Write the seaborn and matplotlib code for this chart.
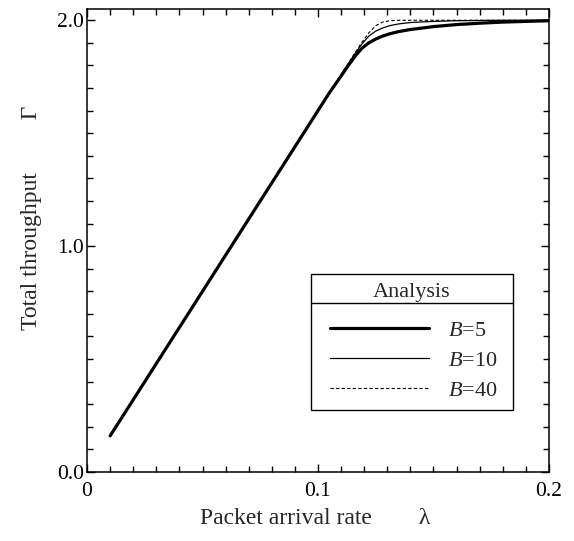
import matplotlib
matplotlib.use("Agg")
import matplotlib.pyplot as plt
import pandas as pd
import seaborn as sns
from matplotlib.lines import Line2D
from matplotlib.legend_handler import HandlerLine2D
from matplotlib.ticker import MultipleLocator

# Data
lam = [0.01, 0.05, 0.09, 0.100, 0.105, 0.110, 0.113, 0.116, 0.119, 0.122, 0.125,
       0.128, 0.131, 0.135, 0.140, 0.150, 0.160, 0.170, 0.180, 0.190, 0.200]
gamma_b5 = [0.16, 0.80, 1.44, 1.600, 1.680, 1.753, 1.798, 1.840, 1.876, 1.900, 1.917,
            1.930, 1.940, 1.950, 1.959, 1.972, 1.981, 1.987, 1.992, 1.995, 1.998]
gamma_b10 = [0.16, 0.80, 1.44, 1.600, 1.680, 1.759, 1.806, 1.852, 1.895, 1.930, 1.952,
             1.966, 1.976, 1.984, 1.990, 1.995, 1.998, 1.999, 2.000, 2.000, 2.000]
gamma_b40 = [0.16, 0.80, 1.44, 1.600, 1.680, 1.760, 1.808, 1.856, 1.902, 1.944, 1.976,
             1.992, 1.998, 2.000, 2.000, 2.000, 2.000, 2.000, 2.000, 2.000, 2.000]
labels = ["$B$=5", "$B$=10", "$B$=40"]

sns.set_style("ticks")
plt.rcParams['font.family'] = ['Liberation Serif', 'DejaVu Serif']
plt.rcParams['mathtext.fontset'] = 'custom'
plt.rcParams['mathtext.rm'] = 'Liberation Serif'
plt.rcParams['mathtext.it'] = 'Liberation Serif:italic'

df = pd.DataFrame({'lam': lam * 3,
                   'gamma': gamma_b5 + gamma_b10 + gamma_b40,
                   'B': [labels[0]] * len(lam) + [labels[1]] * len(lam) + [labels[2]] * len(lam)})

fig = plt.figure(figsize=(5.74, 5.41), dpi=100)
ax = fig.add_axes([0.1516, 0.1275, 0.8048, 0.8559])

styles = {labels[0]: dict(lw=2.3, ls='-'),
          labels[1]: dict(lw=0.9, ls='-'),
          labels[2]: dict(lw=0.8, ls=(0, (3, 2)))}
handles = []
for name in labels:
    sub = df[df['B'] == name]
    sns.lineplot(data=sub, x='lam', y='gamma', ax=ax, color='black', legend=False,
                 linewidth=styles[name]['lw'], linestyle=styles[name]['ls'])
    handles.append(Line2D([], [], color='black', lw=styles[name]['lw'], ls=styles[name]['ls']))

ax.set_xlim(0, 0.2)
ax.set_ylim(0, 2.05)
ax.set_xticks([0, 0.1, 0.2])
ax.set_xticklabels(['0', '0.1', '0.2'])
ax.set_yticks([0, 1.0, 2.0])
ax.set_yticklabels(['0.0', '1.0', '2.0'])
ax.xaxis.set_minor_locator(MultipleLocator(0.01))
ax.yaxis.set_minor_locator(MultipleLocator(0.1))
ax.tick_params(which='both', direction='in', top=True, right=True, width=1.0, colors='black')
ax.tick_params(which='major', length=6, labelsize=15.5)
ax.tick_params(axis='x', which='major', pad=7)
ax.tick_params(axis='y', which='major', pad=2)
ax.tick_params(which='minor', length=4)
for s in ax.spines.values():
    s.set_linewidth(1.1)
    s.set_color('black')

ax.set_xlabel("Packet arrival rate" + " " * 8 + "λ", fontsize=17, va='top')
ax.xaxis.set_label_coords(0.494, -0.077)
ax.set_ylabel("Total throughput" + " " * 9 + "Γ", fontsize=17)
ax.yaxis.set_label_coords(-0.097, 0.549)

leg = ax.legend(handles, labels, title="Analysis", loc='upper left',
                bbox_to_anchor=(0.485, 0.140, 0.437, 0.288), mode='expand',
                borderaxespad=0, fontsize=16, title_fontsize=16, handlelength=4.9,
                handletextpad=0.86, labelspacing=0.42, borderpad=0.415, fancybox=False,
                frameon=True, framealpha=1, edgecolor='black', alignment='center',
                handler_map={Line2D: HandlerLine2D(xpad=0.45)})
leg.get_frame().set_linewidth(1.0)
# wider gap between the title and the entries
leg._legend_box.sep = 13.2

# separator line under the legend title
fig.canvas.draw()
r = fig.canvas.get_renderer()
fb = leg.get_frame().get_window_extent(r)
tb = leg.get_title().get_window_extent(r)
ysep = tb.y0 - 1
fig.add_artist(Line2D([fb.x0 / fig.bbox.width, fb.x1 / fig.bbox.width],
                      [ysep / fig.bbox.height] * 2, color='black', lw=1.0))

fig.savefig('out.png', dpi=100)
